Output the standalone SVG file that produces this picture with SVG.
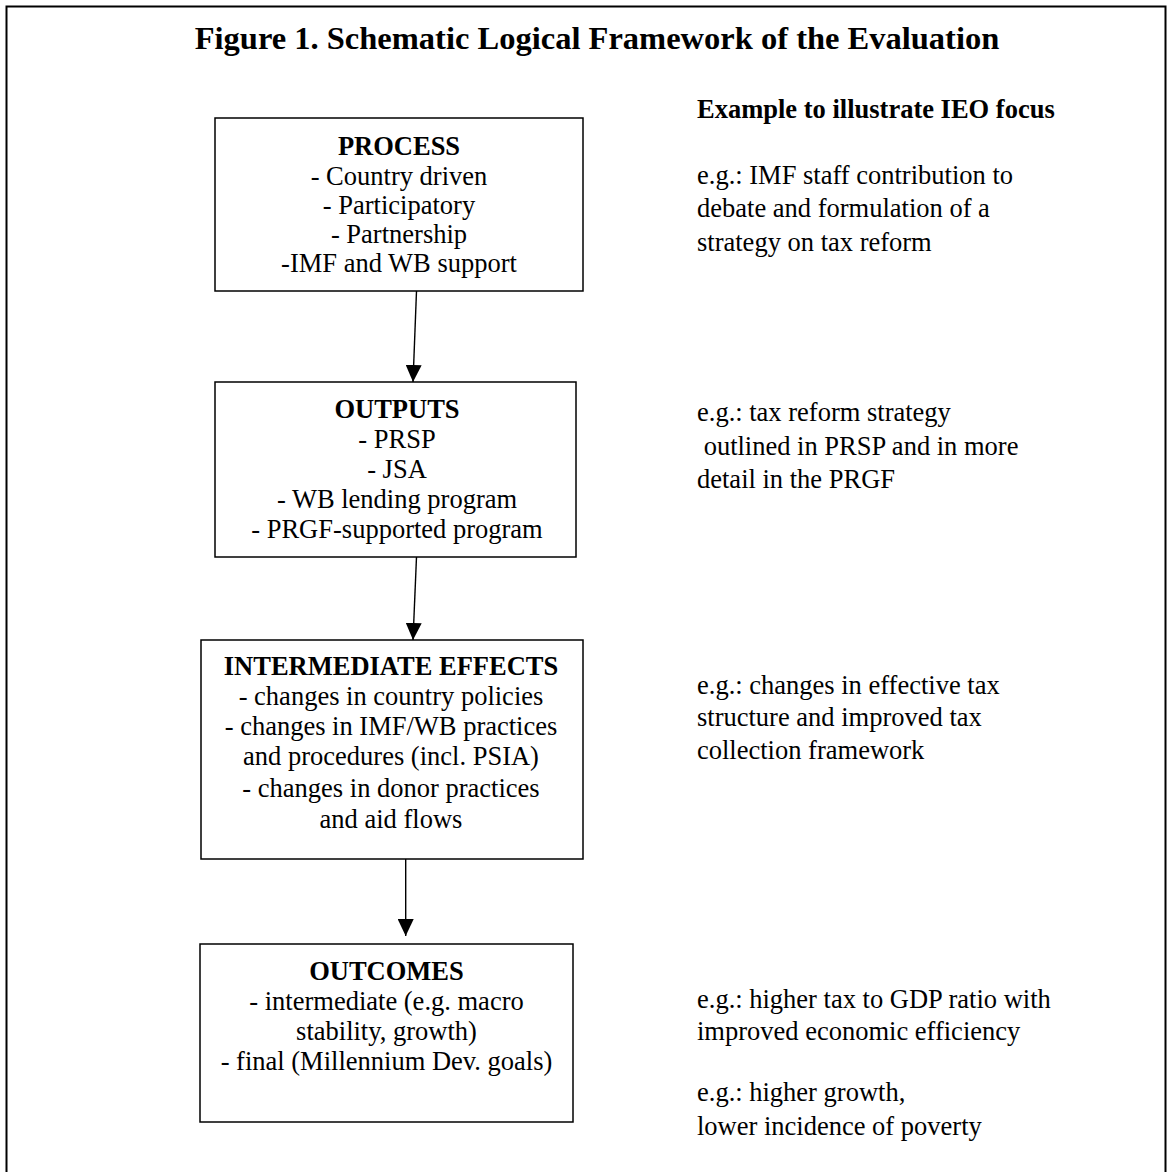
<svg xmlns="http://www.w3.org/2000/svg" width="1167" height="1172" viewBox="0 0 1167 1172">
<style>
.t{font-family:"Liberation Serif","Times New Roman",serif;font-size:26.5px;fill:#000}
.b{font-weight:bold}
.c{text-anchor:middle}
.box{fill:#fff;stroke:#000;stroke-width:1.5}
.con{stroke:#000;stroke-width:1.4;fill:none}
</style>
<defs>
<marker id="ah" markerUnits="userSpaceOnUse" markerWidth="18" markerHeight="16" viewBox="0 0 18 16" refX="17" refY="8" orient="auto">
<path d="M0,0 L17,8 L0,16 Z" fill="#000"/>
</marker>
</defs>
<rect x="6.5" y="6.5" width="1159" height="1190" fill="#fff" stroke="#000" stroke-width="2"/>
<text class="t b c" x="597" y="49" style="font-size:32.5px">Figure 1. Schematic Logical Framework of the Evaluation</text>

<g id="process">
<rect class="box" x="215" y="118" width="368" height="173"/>
<text class="t b c" x="399" y="155">PROCESS</text>
<text class="t c" x="399" y="185">- Country driven</text>
<text class="t c" x="399" y="214">- Participatory</text>
<text class="t c" x="399" y="243">- Partnership</text>
<text class="t c" x="399" y="272">-IMF and WB support</text>
</g>
<g id="outputs">
<rect class="box" x="215" y="382" width="361" height="175"/>
<text class="t b c" x="397" y="418">OUTPUTS</text>
<text class="t c" x="397" y="448">- PRSP</text>
<text class="t c" x="397" y="478">- JSA</text>
<text class="t c" x="397" y="508">- WB lending program</text>
<text class="t c" x="397" y="538">- PRGF-supported program</text>
</g>
<g id="intermediate">
<rect class="box" x="201" y="640" width="382" height="219"/>
<text class="t b c" x="391" y="675">INTERMEDIATE EFFECTS</text>
<text class="t c" x="391" y="705">- changes in country policies</text>
<text class="t c" x="391" y="735">- changes in IMF/WB practices</text>
<text class="t c" x="391" y="765">and procedures (incl. PSIA)</text>
<text class="t c" x="391" y="797">- changes in donor practices</text>
<text class="t c" x="391" y="828">and aid flows</text>
</g>
<g id="outcomes">
<rect class="box" x="200" y="944" width="373" height="178"/>
<text class="t b c" x="386.5" y="980">OUTCOMES</text>
<text class="t c" x="386.5" y="1010">- intermediate (e.g. macro</text>
<text class="t c" x="386.5" y="1040">stability, growth)</text>
<text class="t c" x="386.5" y="1070">- final (Millennium Dev. goals)</text>
</g>
<g id="examples">
<text class="t b" x="697" y="118">Example to illustrate IEO focus</text>
<text class="t" x="697" y="184">e.g.: IMF staff contribution to</text>
<text class="t" x="697" y="217">debate and formulation of a</text>
<text class="t" x="697" y="251">strategy on tax reform</text>
<text class="t" x="697" y="421">e.g.: tax reform strategy</text>
<text class="t" x="697" y="455" xml:space="preserve"> outlined in PRSP and in more</text>
<text class="t" x="697" y="488">detail in the PRGF</text>
<text class="t" x="697" y="694">e.g.: changes in effective tax</text>
<text class="t" x="697" y="726">structure and improved tax</text>
<text class="t" x="697" y="759">collection framework</text>
<text class="t" x="697" y="1008">e.g.: higher tax to GDP ratio with</text>
<text class="t" x="697" y="1040">improved economic efficiency</text>
<text class="t" x="697" y="1101">e.g.: higher growth,</text>
<text class="t" x="697" y="1135">lower incidence of poverty</text>
</g>
<g id="connectors">
<line class="con" x1="416.5" y1="291" x2="413" y2="382" marker-end="url(#ah)"/>
<line class="con" x1="416.5" y1="557" x2="413" y2="640" marker-end="url(#ah)"/>
<line class="con" x1="405.7" y1="859" x2="405.7" y2="936" marker-end="url(#ah)"/>
</g>
</svg>
